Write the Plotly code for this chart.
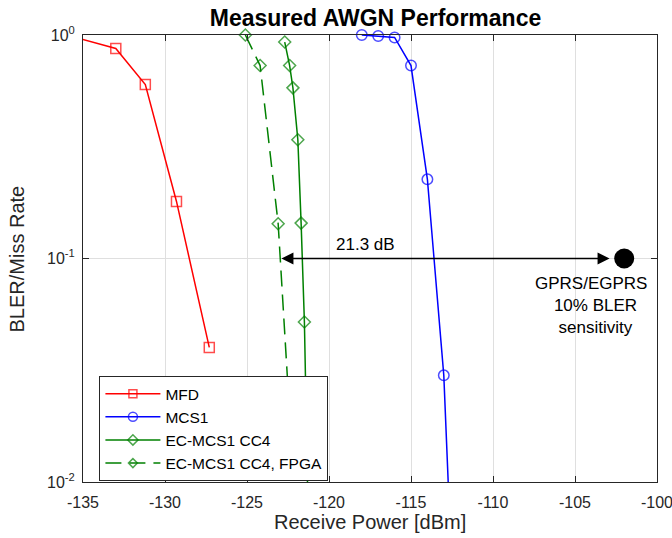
import plotly.graph_objects as go
import math

# ---- data ----
mfd_x = [-136.0, -133.0, -131.2, -129.3, -127.3]
mfd_y = [1.0, 0.87, 0.60, 0.18, 0.040]

mcs1_x = [-118.0, -117.0, -116.0, -115.0, -114.0, -113.0, -112.0]
mcs1_y = [1.0, 0.99, 0.975, 0.73, 0.226, 0.030, 0.0005]

cc4_x = [-122.7, -122.4, -122.2, -121.9, -121.7, -121.5, -121.0]
cc4_y = [0.93, 0.73, 0.58, 0.34, 0.144, 0.052, 0.00065]

fpga_x = [-125.1, -124.2, -123.1, -122.0]
fpga_y = [1.0, 0.73, 0.143, 0.0065]

sens_x = [-102.0]
sens_y = [0.1]

arrow_from = -102.8
arrow_to = -122.9
arrow_level = 0.1
gap_label = "21.3 dB"

x_ticks = [-135, -130, -125, -120, -115, -110, -105, -100]
x_ticktext = ["-135", "-130", "-125", "-120", "-115", "-110", "-105", "-100"]
y_ticks = [0.01, 0.1, 1]
y_ticktext = ["10<sup>-2</sup>", "10<sup>-1</sup>", "10<sup>0</sup>"]

XR = [-135, -100]
YR = [-2, 0]

FONT = "Liberation Sans, Arial, Helvetica, sans-serif"
AX = "#262626"


def sizes(xs, ys, s):
    out = []
    for x, y in zip(xs, ys):
        ly = math.log10(y)
        inside = XR[0] - 1e-9 <= x <= XR[1] + 1e-9 and YR[0] - 1e-9 <= ly <= YR[1] + 1e-9
        out.append(s if inside else 0)
    return out


fig = go.Figure()

fig.add_trace(go.Scatter(
    x=mfd_x, y=mfd_y, name="MFD", mode="lines+markers",
    line=dict(color="#ff0000", width=1.5),
    marker=dict(symbol="square-open", size=sizes(mfd_x, mfd_y, 10), color="#ff0000",
                line=dict(width=1.5, color="#ff0000")),
    cliponaxis=False))

fig.add_trace(go.Scatter(
    x=mcs1_x, y=mcs1_y, name="MCS1", mode="lines+markers",
    line=dict(color="#0000ff", width=1.5),
    marker=dict(symbol="circle-open", size=sizes(mcs1_x, mcs1_y, 10.5), color="#0000ff",
                line=dict(width=1.5, color="#0000ff")),
    cliponaxis=False))

fig.add_trace(go.Scatter(
    x=cc4_x, y=cc4_y, name="EC-MCS1 CC4", mode="lines+markers",
    line=dict(color="#008000", width=1.5),
    marker=dict(symbol="diamond-open", size=sizes(cc4_x, cc4_y, 9.2), color="#008000",
                line=dict(width=1.5, color="#008000")),
    cliponaxis=False))

fig.add_trace(go.Scatter(
    x=fpga_x, y=fpga_y, name="EC-MCS1 CC4, FPGA", mode="lines+markers",
    line=dict(color="#008000", width=1.5, dash="16px,8px"),
    marker=dict(symbol="diamond-open", size=sizes(fpga_x, fpga_y, 9.2), color="#008000",
                line=dict(width=1.5, color="#008000")),
    cliponaxis=False))

fig.add_trace(go.Scatter(
    x=sens_x, y=sens_y, mode="markers", showlegend=False,
    marker=dict(symbol="circle", size=20, color="black"),
    cliponaxis=False))

annotations = [
    # double arrow
    dict(x=arrow_to, y=math.log10(arrow_level), ax=arrow_from, ay=math.log10(arrow_level),
         xref="x", yref="y", axref="x", ayref="y", text="", showarrow=True,
         arrowhead=2, startarrowhead=2, arrowside="end+start", arrowsize=1.6,
         startarrowsize=1.6, arrowwidth=1.5, arrowcolor="black", standoff=0, startstandoff=0),
    dict(x=-117.8, y=math.log10(0.116), xref="x", yref="y", text=gap_label, showarrow=False,
         font=dict(family=FONT, size=17, color="black")),
    dict(x=-107.56, y=-1.2125, xref="x", yref="y", xanchor="left", yanchor="middle",
         align="left", showarrow=False,
         text="GPRS/EGPRS<br>\u00a0\u00a0\u00a0\u00a010% BLER<br>\u00a0\u00a0\u00a0\u00a0\u00a0sensitivity",
         font=dict(family=FONT, size=17, color="black")),
    # axis titles
    dict(x=0.5, y=-0.0895, xref="paper", yref="paper", xanchor="center", yanchor="middle",
         text="Receive Power [dBm]", showarrow=False,
         font=dict(family=FONT, size=20, color=AX)),
    dict(x=-0.115, y=0.5, xref="paper", yref="paper", xanchor="center", yanchor="middle",
         text="BLER/Miss Rate", textangle=-90, showarrow=False,
         font=dict(family=FONT, size=20, color=AX)),
]

fig.update_layout(
    width=672, height=538,
    margin=dict(l=83, r=15, t=35, b=56, autoexpand=False),
    paper_bgcolor="white", plot_bgcolor="white",
    font=dict(family=FONT, color=AX),
    title=dict(text="<b>Measured AWGN Performance</b>", x=375.5 / 672, xref="container",
               xanchor="center", y=1 - 18 / 538, yref="container", yanchor="middle",
               font=dict(family=FONT, size=23, color="black")),
    xaxis=dict(range=XR, tickvals=x_ticks, ticktext=x_ticktext, ticks="inside", ticklen=6,
               tickwidth=1, tickcolor=AX, showline=True, linecolor=AX, linewidth=1,
               mirror="allticks", showgrid=True, gridcolor="#dfdfdf", gridwidth=1,
               zeroline=False, tickfont=dict(family=FONT, size=16, color=AX),
               ticklabelstandoff=6, ticklabeloverflow="allow", automargin=False),
    yaxis=dict(type="log", range=YR, tickvals=y_ticks, ticktext=y_ticktext, ticks="inside",
               ticklen=6, tickwidth=1, tickcolor=AX, showline=True, linecolor=AX, linewidth=1,
               mirror="allticks", showgrid=True, gridcolor="#dfdfdf", gridwidth=1,
               zeroline=False, tickfont=dict(family=FONT, size=16, color=AX),
               ticklabelstandoff=4, ticklabeloverflow="allow", automargin=False),
    legend=dict(x=0.0286, y=0.237, xanchor="left", yanchor="top", bgcolor="white",
                bordercolor=AX, borderwidth=1, font=dict(family=FONT, size=15.5, color="black"),
                itemwidth=55, tracegroupgap=0),
    annotations=annotations,
    showlegend=True,
)

fig.write_html("out.html", config={"displayModeBar": False},
               post_script="document.body.style.margin='0';")
